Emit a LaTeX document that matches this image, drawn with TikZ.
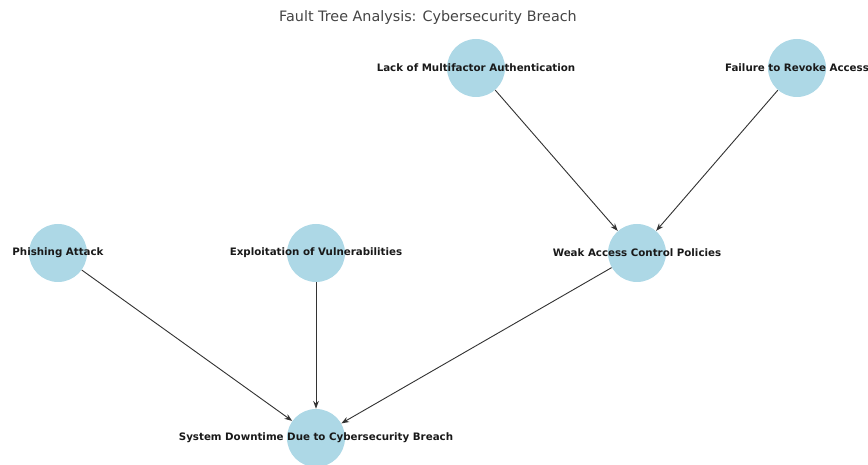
\documentclass[tikz,border=0pt]{standalone}
\usepackage{fontspec}
\setmainfont{DejaVu Sans}
\usetikzlibrary{arrows.meta}
\definecolor{nodeblue}{HTML}{ADD8E6}
\definecolor{titlegray}{HTML}{444444}
\tikzset{
  event/.style={circle, fill=nodeblue, minimum size=1.45cm, inner sep=0pt},
  eventlabel/.style={font=\fontsize{7.3}{8}\selectfont\bfseries, text=black!90},
  cause/.style={-{Stealth[length=5.5pt,width=4pt]}, line width=0.65pt, draw=black!80}
}
\begin{document}
\begin{tikzpicture}
		\useasboundingbox (0,0) rectangle (21.7,11.6);
		% Titel
		\node[font=\fontsize{10.2}{12}\selectfont, text=titlegray] (title) at (10.7,11.15) {Fault Tree Analysis: Cybersecurity Breach};
		% Ereignisse
		\node[event] (mfa) at (11.9,9.9) {};
		\node[event] (revoke) at (19.925,9.9) {};
		\node[event] (phish) at (1.45,5.275) {};
		\node[event] (exploit) at (7.9,5.275) {};
		\node[event] (weak) at (15.925,5.275) {};
		\node[event] (downtime) at (7.9,0.65) {};
		% Verbindungen
		\draw[cause] (mfa) -- (weak);
		\draw[cause] (revoke) -- (weak);
		\draw[cause] (phish) -- (downtime);
		\draw[cause] (exploit) -- (downtime);
		\draw[cause] (weak) -- (downtime);
		% Labels
		\node[eventlabel] at (mfa) {Lack of Multifactor Authentication};
		\node[eventlabel] at (revoke) {Failure to Revoke Access};
		\node[eventlabel] at (phish) {Phishing Attack};
		\node[eventlabel] at (exploit) {Exploitation of Vulnerabilities};
		\node[eventlabel] at (weak) {Weak Access Control Policies};
		\node[eventlabel] at (downtime) {System Downtime Due to Cybersecurity Breach};
	\end{tikzpicture}
\end{document}
